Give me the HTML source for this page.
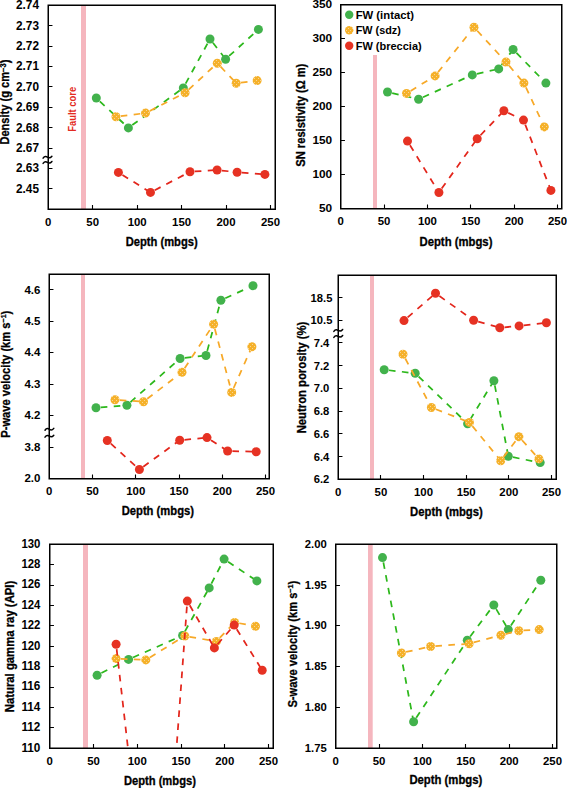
<!DOCTYPE html>
<html><head><meta charset="utf-8"><style>
html,body{margin:0;padding:0;background:#fff;}
body{width:567px;height:788px;overflow:hidden;}
svg{display:block;font-family:"Liberation Sans",sans-serif;}
</style></head><body>
<svg width="567" height="788">
<rect width="567" height="788" fill="#fff"/>
<defs><pattern id="ydots" patternUnits="userSpaceOnUse" x="0" y="0" width="4" height="4"><rect width="4" height="4" fill="#F5B12A"/><rect x="0" y="0" width="1" height="1" fill="#F9D595"/><rect x="2" y="2" width="1" height="1" fill="#F9D595"/></pattern></defs>
<rect x="81" y="5.25" width="5" height="204" fill="#F5B6BE"/>
<clipPath id="cA"><rect x="48.25" y="5.25" width="227" height="204"/></clipPath>
<g stroke-width="1.75" stroke-dasharray="6.6 6.4" stroke-dashoffset="8.2" clip-path="url(#cA)"><line x1="96.3" y1="98" x2="128.4" y2="127.9" stroke="#2DB81C"/><line x1="128.4" y1="127.9" x2="183.3" y2="87.9" stroke="#2DB81C"/><line x1="183.3" y1="87.9" x2="210" y2="39" stroke="#2DB81C"/><line x1="210" y1="39" x2="225.6" y2="59.2" stroke="#2DB81C"/><line x1="225.6" y1="59.2" x2="258.4" y2="29.4" stroke="#2DB81C"/></g>
<circle cx="96.3" cy="98" r="4.5" fill="#42B24C"/>
<circle cx="128.4" cy="127.9" r="4.5" fill="#42B24C"/>
<circle cx="183.3" cy="87.9" r="4.5" fill="#42B24C"/>
<circle cx="210" cy="39" r="4.5" fill="#42B24C"/>
<circle cx="225.6" cy="59.2" r="4.5" fill="#42B24C"/>
<circle cx="258.4" cy="29.4" r="4.5" fill="#42B24C"/>
<g stroke-width="1.75" stroke-dasharray="6.6 6.4" stroke-dashoffset="8.2" clip-path="url(#cA)"><line x1="116" y1="116.7" x2="145.5" y2="113.1" stroke="#F7A928"/><line x1="145.5" y1="113.1" x2="185.1" y2="92.8" stroke="#F7A928"/><line x1="185.1" y1="92.8" x2="217.3" y2="63.2" stroke="#F7A928"/><line x1="217.3" y1="63.2" x2="236.2" y2="83.2" stroke="#F7A928"/><line x1="236.2" y1="83.2" x2="257.1" y2="80.6" stroke="#F7A928"/></g>
<circle cx="116" cy="116.7" r="4.5" fill="url(#ydots)"/>
<circle cx="145.5" cy="113.1" r="4.5" fill="url(#ydots)"/>
<circle cx="185.1" cy="92.8" r="4.5" fill="url(#ydots)"/>
<circle cx="217.3" cy="63.2" r="4.5" fill="url(#ydots)"/>
<circle cx="236.2" cy="83.2" r="4.5" fill="url(#ydots)"/>
<circle cx="257.1" cy="80.6" r="4.5" fill="url(#ydots)"/>
<g stroke-width="1.75" stroke-dasharray="6.6 6.4" stroke-dashoffset="8.2" clip-path="url(#cA)"><line x1="118.4" y1="172.4" x2="150.5" y2="192.4" stroke="#E3261C"/><line x1="150.5" y1="192.4" x2="190" y2="171.8" stroke="#E3261C"/><line x1="190" y1="171.8" x2="217.1" y2="170" stroke="#E3261C"/><line x1="217.1" y1="170" x2="237.1" y2="172.2" stroke="#E3261C"/><line x1="237.1" y1="172.2" x2="264.9" y2="174.4" stroke="#E3261C"/></g>
<circle cx="118.4" cy="172.4" r="4.5" fill="#E63223"/>
<circle cx="150.5" cy="192.4" r="4.5" fill="#E63223"/>
<circle cx="190" cy="171.8" r="4.5" fill="#E63223"/>
<circle cx="217.1" cy="170" r="4.5" fill="#E63223"/>
<circle cx="237.1" cy="172.2" r="4.5" fill="#E63223"/>
<circle cx="264.9" cy="174.4" r="4.5" fill="#E63223"/>
<rect x="48.25" y="5.25" width="227" height="204" fill="none" stroke="#000" stroke-width="1.5"/>
<path d="M48.25,25.5h4.2 M48.25,46.5h4.2 M48.25,66.5h4.2 M48.25,86.5h4.2 M48.25,107.5h4.2 M48.25,127.5h4.2 M48.25,148.5h4.2 M48.25,168.5h4.2 M48.25,188.5h4.2 M92.5,209.25v-4.2 M137.5,209.25v-4.2 M181.5,209.25v-4.2 M226.5,209.25v-4.2 M270.5,209.25v-4.2" stroke="#000" stroke-width="1.1" fill="none"/>
<path d="M43.1,158.15 C44.68,155.87 46.27,156.34 47.5,157.2 S50.32,158.24 51.9,156.25" fill="none" stroke="#000" stroke-width="1.5" stroke-linecap="round"/>
<path d="M43.1,163.35 C44.68,161.07 46.27,161.55 47.5,162.4 S50.32,163.44 51.9,161.45" fill="none" stroke="#000" stroke-width="1.5" stroke-linecap="round"/>
<text x="39" y="9.29" font-size="11.9" font-weight="bold" fill="#000" text-anchor="end" textLength="23" lengthAdjust="spacingAndGlyphs">2.74</text>
<text x="39" y="29.69" font-size="11.9" font-weight="bold" fill="#000" text-anchor="end" textLength="23" lengthAdjust="spacingAndGlyphs">2.73</text>
<text x="39" y="50.09" font-size="11.9" font-weight="bold" fill="#000" text-anchor="end" textLength="23" lengthAdjust="spacingAndGlyphs">2.72</text>
<text x="39" y="70.49" font-size="11.9" font-weight="bold" fill="#000" text-anchor="end" textLength="23" lengthAdjust="spacingAndGlyphs">2.71</text>
<text x="39" y="90.89" font-size="11.9" font-weight="bold" fill="#000" text-anchor="end" textLength="23" lengthAdjust="spacingAndGlyphs">2.70</text>
<text x="39" y="111.29" font-size="11.9" font-weight="bold" fill="#000" text-anchor="end" textLength="23" lengthAdjust="spacingAndGlyphs">2.69</text>
<text x="39" y="131.69" font-size="11.9" font-weight="bold" fill="#000" text-anchor="end" textLength="23" lengthAdjust="spacingAndGlyphs">2.68</text>
<text x="39" y="152.09" font-size="11.9" font-weight="bold" fill="#000" text-anchor="end" textLength="23" lengthAdjust="spacingAndGlyphs">2.67</text>
<text x="39" y="172.49" font-size="11.9" font-weight="bold" fill="#000" text-anchor="end" textLength="23" lengthAdjust="spacingAndGlyphs">2.63</text>
<text x="39" y="192.89" font-size="11.9" font-weight="bold" fill="#000" text-anchor="end" textLength="23" lengthAdjust="spacingAndGlyphs">2.45</text>
<text x="48.25" y="226.45" font-size="11.7" font-weight="bold" fill="#000" text-anchor="middle" textLength="6.35" lengthAdjust="spacingAndGlyphs">0</text>
<text x="92.7" y="226.45" font-size="11.7" font-weight="bold" fill="#000" text-anchor="middle" textLength="12.7" lengthAdjust="spacingAndGlyphs">50</text>
<text x="137.15" y="226.45" font-size="11.7" font-weight="bold" fill="#000" text-anchor="middle" textLength="19.05" lengthAdjust="spacingAndGlyphs">100</text>
<text x="181.6" y="226.45" font-size="11.7" font-weight="bold" fill="#000" text-anchor="middle" textLength="19.05" lengthAdjust="spacingAndGlyphs">150</text>
<text x="226.05" y="226.45" font-size="11.7" font-weight="bold" fill="#000" text-anchor="middle" textLength="19.05" lengthAdjust="spacingAndGlyphs">200</text>
<text x="270.5" y="226.45" font-size="11.7" font-weight="bold" fill="#000" text-anchor="middle" textLength="19.05" lengthAdjust="spacingAndGlyphs">250</text>
<text x="125.7" y="246" font-size="12" font-weight="bold" fill="#000" textLength="72" lengthAdjust="spacingAndGlyphs" stroke="#000" stroke-width="0.3">Depth (mbgs)</text>
<text x="9.4" y="144.6" font-size="12" font-weight="bold" stroke="#000" stroke-width="0.3" transform="rotate(-90 9.4 144.6)" textLength="85" lengthAdjust="spacingAndGlyphs">Density (g cm<tspan font-size="8.2" dy="-3.8">−3</tspan><tspan dy="3.8">)</tspan></text>
<rect x="373" y="55" width="4" height="153.75" fill="#F5B6BE"/>
<clipPath id="cB"><rect x="340.75" y="4.75" width="221" height="204"/></clipPath>
<g stroke-width="1.75" stroke-dasharray="6.6 6.4" stroke-dashoffset="8.2" clip-path="url(#cB)"><line x1="387.5" y1="92" x2="418.6" y2="99.2" stroke="#2DB81C"/><line x1="418.6" y1="99.2" x2="472.3" y2="74.9" stroke="#2DB81C"/><line x1="472.3" y1="74.9" x2="498.7" y2="68.9" stroke="#2DB81C"/><line x1="498.7" y1="68.9" x2="513.1" y2="49.5" stroke="#2DB81C"/><line x1="513.1" y1="49.5" x2="545.9" y2="83.1" stroke="#2DB81C"/></g>
<circle cx="387.5" cy="92" r="4.5" fill="#42B24C"/>
<circle cx="418.6" cy="99.2" r="4.5" fill="#42B24C"/>
<circle cx="472.3" cy="74.9" r="4.5" fill="#42B24C"/>
<circle cx="498.7" cy="68.9" r="4.5" fill="#42B24C"/>
<circle cx="513.1" cy="49.5" r="4.5" fill="#42B24C"/>
<circle cx="545.9" cy="83.1" r="4.5" fill="#42B24C"/>
<g stroke-width="1.75" stroke-dasharray="6.6 6.4" stroke-dashoffset="8.2" clip-path="url(#cB)"><line x1="406.5" y1="93.4" x2="435.1" y2="75.9" stroke="#F7A928"/><line x1="435.1" y1="75.9" x2="474" y2="27.2" stroke="#F7A928"/><line x1="474" y1="27.2" x2="506" y2="62" stroke="#F7A928"/><line x1="506" y1="62" x2="523.9" y2="83.1" stroke="#F7A928"/><line x1="523.9" y1="83.1" x2="544.3" y2="126.9" stroke="#F7A928"/></g>
<circle cx="406.5" cy="93.4" r="4.5" fill="url(#ydots)"/>
<circle cx="435.1" cy="75.9" r="4.5" fill="url(#ydots)"/>
<circle cx="474" cy="27.2" r="4.5" fill="url(#ydots)"/>
<circle cx="506" cy="62" r="4.5" fill="url(#ydots)"/>
<circle cx="523.9" cy="83.1" r="4.5" fill="url(#ydots)"/>
<circle cx="544.3" cy="126.9" r="4.5" fill="url(#ydots)"/>
<g stroke-width="1.75" stroke-dasharray="6.6 6.4" stroke-dashoffset="8.2" clip-path="url(#cB)"><line x1="407.5" y1="141.1" x2="438.9" y2="192.5" stroke="#E3261C"/><line x1="438.9" y1="192.5" x2="477.2" y2="138.7" stroke="#E3261C"/><line x1="477.2" y1="138.7" x2="503.9" y2="110.8" stroke="#E3261C"/><line x1="503.9" y1="110.8" x2="523.5" y2="120.1" stroke="#E3261C"/><line x1="523.5" y1="120.1" x2="550.9" y2="190.4" stroke="#E3261C"/></g>
<circle cx="407.5" cy="141.1" r="4.5" fill="#E63223"/>
<circle cx="438.9" cy="192.5" r="4.5" fill="#E63223"/>
<circle cx="477.2" cy="138.7" r="4.5" fill="#E63223"/>
<circle cx="503.9" cy="110.8" r="4.5" fill="#E63223"/>
<circle cx="523.5" cy="120.1" r="4.5" fill="#E63223"/>
<circle cx="550.9" cy="190.4" r="4.5" fill="#E63223"/>
<rect x="340.75" y="4.75" width="221" height="204" fill="none" stroke="#000" stroke-width="1.5"/>
<path d="M340.75,38.5h4.2 M340.75,72.5h4.2 M340.75,106.5h4.2 M340.75,140.5h4.2 M340.75,174.5h4.2 M384.5,208.75v-4.2 M427.5,208.75v-4.2 M470.5,208.75v-4.2 M514.5,208.75v-4.2 M557.5,208.75v-4.2" stroke="#000" stroke-width="1.1" fill="none"/>
<text x="332.2" y="7.52" font-size="10.8" font-weight="bold" fill="#000" text-anchor="end" textLength="19.8" lengthAdjust="spacingAndGlyphs">350</text>
<text x="332.2" y="41.52" font-size="10.8" font-weight="bold" fill="#000" text-anchor="end" textLength="19.8" lengthAdjust="spacingAndGlyphs">300</text>
<text x="332.2" y="75.52" font-size="10.8" font-weight="bold" fill="#000" text-anchor="end" textLength="19.8" lengthAdjust="spacingAndGlyphs">250</text>
<text x="332.2" y="109.52" font-size="10.8" font-weight="bold" fill="#000" text-anchor="end" textLength="19.8" lengthAdjust="spacingAndGlyphs">200</text>
<text x="332.2" y="143.52" font-size="10.8" font-weight="bold" fill="#000" text-anchor="end" textLength="19.8" lengthAdjust="spacingAndGlyphs">150</text>
<text x="332.2" y="177.52" font-size="10.8" font-weight="bold" fill="#000" text-anchor="end" textLength="19.8" lengthAdjust="spacingAndGlyphs">100</text>
<text x="332.2" y="211.52" font-size="10.8" font-weight="bold" fill="#000" text-anchor="end" textLength="13.2" lengthAdjust="spacingAndGlyphs">50</text>
<text x="340.75" y="225.45" font-size="11.7" font-weight="bold" fill="#000" text-anchor="middle" textLength="6.35" lengthAdjust="spacingAndGlyphs">0</text>
<text x="384.1" y="225.45" font-size="11.7" font-weight="bold" fill="#000" text-anchor="middle" textLength="12.7" lengthAdjust="spacingAndGlyphs">50</text>
<text x="427.45" y="225.45" font-size="11.7" font-weight="bold" fill="#000" text-anchor="middle" textLength="19.05" lengthAdjust="spacingAndGlyphs">100</text>
<text x="470.8" y="225.45" font-size="11.7" font-weight="bold" fill="#000" text-anchor="middle" textLength="19.05" lengthAdjust="spacingAndGlyphs">150</text>
<text x="514.15" y="225.45" font-size="11.7" font-weight="bold" fill="#000" text-anchor="middle" textLength="19.05" lengthAdjust="spacingAndGlyphs">200</text>
<text x="557.5" y="225.45" font-size="11.7" font-weight="bold" fill="#000" text-anchor="middle" textLength="19.05" lengthAdjust="spacingAndGlyphs">250</text>
<text x="419.5" y="246" font-size="12" font-weight="bold" fill="#000" textLength="72.9" lengthAdjust="spacingAndGlyphs" stroke="#000" stroke-width="0.3">Depth (mbgs)</text>
<text x="305.1" y="166.7" font-size="12" font-weight="bold" stroke="#000" stroke-width="0.3" transform="rotate(-90 305.1 166.7)" textLength="103" lengthAdjust="spacingAndGlyphs">SN resistivity (Ω m)</text>
<rect x="81" y="274.25" width="4" height="204.5" fill="#F5B6BE"/>
<clipPath id="cC"><rect x="49.25" y="274.25" width="220" height="204.5"/></clipPath>
<g stroke-width="1.75" stroke-dasharray="6.6 6.4" stroke-dashoffset="8.2" clip-path="url(#cC)"><line x1="96" y1="407.8" x2="126.9" y2="405.2" stroke="#2DB81C"/><line x1="126.9" y1="405.2" x2="180.1" y2="358.5" stroke="#2DB81C"/><line x1="180.1" y1="358.5" x2="206" y2="355.5" stroke="#2DB81C"/><line x1="206" y1="355.5" x2="220.9" y2="300.2" stroke="#2DB81C"/><line x1="220.9" y1="300.2" x2="253" y2="285.7" stroke="#2DB81C"/></g>
<circle cx="96" cy="407.8" r="4.5" fill="#42B24C"/>
<circle cx="126.9" cy="405.2" r="4.5" fill="#42B24C"/>
<circle cx="180.1" cy="358.5" r="4.5" fill="#42B24C"/>
<circle cx="206" cy="355.5" r="4.5" fill="#42B24C"/>
<circle cx="220.9" cy="300.2" r="4.5" fill="#42B24C"/>
<circle cx="253" cy="285.7" r="4.5" fill="#42B24C"/>
<g stroke-width="1.75" stroke-dasharray="6.6 6.4" stroke-dashoffset="8.2" clip-path="url(#cC)"><line x1="115" y1="399.8" x2="143.5" y2="401.7" stroke="#F7A928"/><line x1="143.5" y1="401.7" x2="182" y2="372.2" stroke="#F7A928"/><line x1="182" y1="372.2" x2="213.6" y2="324.3" stroke="#F7A928"/><line x1="213.6" y1="324.3" x2="231.7" y2="392.4" stroke="#F7A928"/><line x1="231.7" y1="392.4" x2="251.9" y2="346.8" stroke="#F7A928"/></g>
<circle cx="115" cy="399.8" r="4.5" fill="url(#ydots)"/>
<circle cx="143.5" cy="401.7" r="4.5" fill="url(#ydots)"/>
<circle cx="182" cy="372.2" r="4.5" fill="url(#ydots)"/>
<circle cx="213.6" cy="324.3" r="4.5" fill="url(#ydots)"/>
<circle cx="231.7" cy="392.4" r="4.5" fill="url(#ydots)"/>
<circle cx="251.9" cy="346.8" r="4.5" fill="url(#ydots)"/>
<g stroke-width="1.75" stroke-dasharray="6.6 6.4" stroke-dashoffset="8.2" clip-path="url(#cC)"><line x1="107.3" y1="440.5" x2="139.4" y2="469.5" stroke="#E3261C"/><line x1="139.4" y1="469.5" x2="179.7" y2="440.3" stroke="#E3261C"/><line x1="179.7" y1="440.3" x2="207" y2="437.6" stroke="#E3261C"/><line x1="207" y1="437.6" x2="227.6" y2="451" stroke="#E3261C"/><line x1="227.6" y1="451" x2="256.2" y2="451.8" stroke="#E3261C"/></g>
<circle cx="107.3" cy="440.5" r="4.5" fill="#E63223"/>
<circle cx="139.4" cy="469.5" r="4.5" fill="#E63223"/>
<circle cx="179.7" cy="440.3" r="4.5" fill="#E63223"/>
<circle cx="207" cy="437.6" r="4.5" fill="#E63223"/>
<circle cx="227.6" cy="451" r="4.5" fill="#E63223"/>
<circle cx="256.2" cy="451.8" r="4.5" fill="#E63223"/>
<rect x="49.25" y="274.25" width="220" height="204.5" fill="none" stroke="#000" stroke-width="1.5"/>
<path d="M49.25,289.5h4.2 M49.25,321.5h4.2 M49.25,352.5h4.2 M49.25,384.5h4.2 M49.25,415.5h4.2 M49.25,447.5h4.2 M92.5,478.75v-4.2 M135.5,478.75v-4.2 M179.5,478.75v-4.2 M222.5,478.75v-4.2 M265.5,478.75v-4.2" stroke="#000" stroke-width="1.1" fill="none"/>
<path d="M45,430.25 C46.58,427.97 48.17,428.44 49.4,429.3 S52.22,430.35 53.8,428.35" fill="none" stroke="#000" stroke-width="1.5" stroke-linecap="round"/>
<path d="M45,437.15 C46.58,434.87 48.17,435.34 49.4,436.2 S52.22,437.25 53.8,435.25" fill="none" stroke="#000" stroke-width="1.5" stroke-linecap="round"/>
<text x="40.4" y="293.52" font-size="11.4" font-weight="bold" fill="#000" text-anchor="end" textLength="16" lengthAdjust="spacingAndGlyphs">4.6</text>
<text x="40.4" y="325" font-size="11.4" font-weight="bold" fill="#000" text-anchor="end" textLength="16" lengthAdjust="spacingAndGlyphs">4.5</text>
<text x="40.4" y="356.47" font-size="11.4" font-weight="bold" fill="#000" text-anchor="end" textLength="16" lengthAdjust="spacingAndGlyphs">4.4</text>
<text x="40.4" y="387.95" font-size="11.4" font-weight="bold" fill="#000" text-anchor="end" textLength="16" lengthAdjust="spacingAndGlyphs">4.3</text>
<text x="40.4" y="419.42" font-size="11.4" font-weight="bold" fill="#000" text-anchor="end" textLength="16" lengthAdjust="spacingAndGlyphs">4.2</text>
<text x="40.4" y="450.9" font-size="11.4" font-weight="bold" fill="#000" text-anchor="end" textLength="16" lengthAdjust="spacingAndGlyphs">3.8</text>
<text x="40.4" y="482.37" font-size="11.4" font-weight="bold" fill="#000" text-anchor="end" textLength="16" lengthAdjust="spacingAndGlyphs">2.0</text>
<text x="49.25" y="495.05" font-size="11.7" font-weight="bold" fill="#000" text-anchor="middle" textLength="6.35" lengthAdjust="spacingAndGlyphs">0</text>
<text x="92.5" y="495.05" font-size="11.7" font-weight="bold" fill="#000" text-anchor="middle" textLength="12.7" lengthAdjust="spacingAndGlyphs">50</text>
<text x="135.75" y="495.05" font-size="11.7" font-weight="bold" fill="#000" text-anchor="middle" textLength="19.05" lengthAdjust="spacingAndGlyphs">100</text>
<text x="179" y="495.05" font-size="11.7" font-weight="bold" fill="#000" text-anchor="middle" textLength="19.05" lengthAdjust="spacingAndGlyphs">150</text>
<text x="222.25" y="495.05" font-size="11.7" font-weight="bold" fill="#000" text-anchor="middle" textLength="19.05" lengthAdjust="spacingAndGlyphs">200</text>
<text x="265.5" y="495.05" font-size="11.7" font-weight="bold" fill="#000" text-anchor="middle" textLength="19.05" lengthAdjust="spacingAndGlyphs">250</text>
<text x="121.7" y="514.7" font-size="12" font-weight="bold" fill="#000" textLength="72.3" lengthAdjust="spacingAndGlyphs" stroke="#000" stroke-width="0.3">Depth (mbgs)</text>
<text x="10.3" y="437.7" font-size="12" font-weight="bold" stroke="#000" stroke-width="0.3" transform="rotate(-90 10.3 437.7)" textLength="127" lengthAdjust="spacingAndGlyphs">P-wave velocity (km s<tspan font-size="7.6" dy="-4.4">−1</tspan><tspan dy="4.4">)</tspan></text>
<rect x="370" y="275.25" width="4" height="204" fill="#F5B6BE"/>
<clipPath id="cD"><rect x="338.25" y="275.25" width="218" height="204"/></clipPath>
<g stroke-width="1.75" stroke-dasharray="6.6 6.4" stroke-dashoffset="8.2" clip-path="url(#cD)"><line x1="384.2" y1="369.7" x2="415.2" y2="373.3" stroke="#2DB81C"/><line x1="415.2" y1="373.3" x2="467.6" y2="423.7" stroke="#2DB81C"/><line x1="467.6" y1="423.7" x2="493.9" y2="380.7" stroke="#2DB81C"/><line x1="493.9" y1="380.7" x2="508.3" y2="456.3" stroke="#2DB81C"/><line x1="508.3" y1="456.3" x2="540.2" y2="462.6" stroke="#2DB81C"/></g>
<circle cx="384.2" cy="369.7" r="4.5" fill="#42B24C"/>
<circle cx="415.2" cy="373.3" r="4.5" fill="#42B24C"/>
<circle cx="467.6" cy="423.7" r="4.5" fill="#42B24C"/>
<circle cx="493.9" cy="380.7" r="4.5" fill="#42B24C"/>
<circle cx="508.3" cy="456.3" r="4.5" fill="#42B24C"/>
<circle cx="540.2" cy="462.6" r="4.5" fill="#42B24C"/>
<g stroke-width="1.75" stroke-dasharray="6.6 6.4" stroke-dashoffset="8.2" clip-path="url(#cD)"><line x1="403" y1="354.3" x2="431.4" y2="407.5" stroke="#F7A928"/><line x1="431.4" y1="407.5" x2="469.4" y2="422.4" stroke="#F7A928"/><line x1="469.4" y1="422.4" x2="500.7" y2="460.7" stroke="#F7A928"/><line x1="500.7" y1="460.7" x2="518.9" y2="436.7" stroke="#F7A928"/><line x1="518.9" y1="436.7" x2="538.9" y2="458.9" stroke="#F7A928"/></g>
<circle cx="403" cy="354.3" r="4.5" fill="url(#ydots)"/>
<circle cx="431.4" cy="407.5" r="4.5" fill="url(#ydots)"/>
<circle cx="469.4" cy="422.4" r="4.5" fill="url(#ydots)"/>
<circle cx="500.7" cy="460.7" r="4.5" fill="url(#ydots)"/>
<circle cx="518.9" cy="436.7" r="4.5" fill="url(#ydots)"/>
<circle cx="538.9" cy="458.9" r="4.5" fill="url(#ydots)"/>
<g stroke-width="1.75" stroke-dasharray="6.6 6.4" stroke-dashoffset="8.2" clip-path="url(#cD)"><line x1="404" y1="320.6" x2="435.5" y2="293.3" stroke="#E3261C"/><line x1="435.5" y1="293.3" x2="473.6" y2="320.3" stroke="#E3261C"/><line x1="473.6" y1="320.3" x2="499.8" y2="327.7" stroke="#E3261C"/><line x1="499.8" y1="327.7" x2="519.1" y2="325.9" stroke="#E3261C"/><line x1="519.1" y1="325.9" x2="546.4" y2="322.8" stroke="#E3261C"/></g>
<circle cx="404" cy="320.6" r="4.5" fill="#E63223"/>
<circle cx="435.5" cy="293.3" r="4.5" fill="#E63223"/>
<circle cx="473.6" cy="320.3" r="4.5" fill="#E63223"/>
<circle cx="499.8" cy="327.7" r="4.5" fill="#E63223"/>
<circle cx="519.1" cy="325.9" r="4.5" fill="#E63223"/>
<circle cx="546.4" cy="322.8" r="4.5" fill="#E63223"/>
<rect x="338.25" y="275.25" width="218" height="204" fill="none" stroke="#000" stroke-width="1.5"/>
<path d="M338.25,297.5h4.2 M338.25,320.5h4.2 M338.25,342.5h4.2 M338.25,365.5h4.2 M338.25,388.5h4.2 M338.25,411.5h4.2 M338.25,433.5h4.2 M338.25,456.5h4.2 M380.5,479.25v-4.2 M423.5,479.25v-4.2 M466.5,479.25v-4.2 M508.5,479.25v-4.2 M551.5,479.25v-4.2" stroke="#000" stroke-width="1.1" fill="none"/>
<path d="M333.85,331.35 C335.43,329.07 337.02,329.54 338.25,330.4 S341.07,331.44 342.65,329.45" fill="none" stroke="#000" stroke-width="1.5" stroke-linecap="round"/>
<path d="M333.85,337.35 C335.43,335.07 337.02,335.54 338.25,336.4 S341.07,337.44 342.65,335.45" fill="none" stroke="#000" stroke-width="1.5" stroke-linecap="round"/>
<text x="321.5" y="301.52" font-size="11.55" font-weight="bold" fill="#000" text-anchor="middle" textLength="21.8" lengthAdjust="spacingAndGlyphs">18.5</text>
<text x="321.5" y="324.24" font-size="11.55" font-weight="bold" fill="#000" text-anchor="middle" textLength="21.8" lengthAdjust="spacingAndGlyphs">10.5</text>
<text x="321.5" y="346.96" font-size="11.55" font-weight="bold" fill="#000" text-anchor="middle" textLength="15.6" lengthAdjust="spacingAndGlyphs">7.4</text>
<text x="321.5" y="369.68" font-size="11.55" font-weight="bold" fill="#000" text-anchor="middle" textLength="15.6" lengthAdjust="spacingAndGlyphs">7.2</text>
<text x="321.5" y="392.4" font-size="11.55" font-weight="bold" fill="#000" text-anchor="middle" textLength="15.6" lengthAdjust="spacingAndGlyphs">7.0</text>
<text x="321.5" y="415.12" font-size="11.55" font-weight="bold" fill="#000" text-anchor="middle" textLength="15.6" lengthAdjust="spacingAndGlyphs">6.8</text>
<text x="321.5" y="437.84" font-size="11.55" font-weight="bold" fill="#000" text-anchor="middle" textLength="15.6" lengthAdjust="spacingAndGlyphs">6.6</text>
<text x="321.5" y="460.56" font-size="11.55" font-weight="bold" fill="#000" text-anchor="middle" textLength="15.6" lengthAdjust="spacingAndGlyphs">6.4</text>
<text x="321.5" y="483.28" font-size="11.55" font-weight="bold" fill="#000" text-anchor="middle" textLength="15.6" lengthAdjust="spacingAndGlyphs">6.2</text>
<text x="338.25" y="496.25" font-size="11.7" font-weight="bold" fill="#000" text-anchor="middle" textLength="6.35" lengthAdjust="spacingAndGlyphs">0</text>
<text x="380.9" y="496.25" font-size="11.7" font-weight="bold" fill="#000" text-anchor="middle" textLength="12.7" lengthAdjust="spacingAndGlyphs">50</text>
<text x="423.55" y="496.25" font-size="11.7" font-weight="bold" fill="#000" text-anchor="middle" textLength="19.05" lengthAdjust="spacingAndGlyphs">100</text>
<text x="466.2" y="496.25" font-size="11.7" font-weight="bold" fill="#000" text-anchor="middle" textLength="19.05" lengthAdjust="spacingAndGlyphs">150</text>
<text x="508.85" y="496.25" font-size="11.7" font-weight="bold" fill="#000" text-anchor="middle" textLength="19.05" lengthAdjust="spacingAndGlyphs">200</text>
<text x="551.5" y="496.25" font-size="11.7" font-weight="bold" fill="#000" text-anchor="middle" textLength="19.05" lengthAdjust="spacingAndGlyphs">250</text>
<text x="410.1" y="515.6" font-size="12" font-weight="bold" fill="#000" textLength="72.7" lengthAdjust="spacingAndGlyphs" stroke="#000" stroke-width="0.3">Depth (mbgs)</text>
<text x="305.6" y="433.3" font-size="12" font-weight="bold" stroke="#000" stroke-width="0.3" transform="rotate(-90 305.6 433.3)" textLength="111.6" lengthAdjust="spacingAndGlyphs">Neutron porosity (%)</text>
<rect x="83" y="544.25" width="5" height="204" fill="#F5B6BE"/>
<clipPath id="cE"><rect x="49.75" y="544.25" width="223.5" height="204"/></clipPath>
<g stroke-width="1.75" stroke-dasharray="6.6 6.4" stroke-dashoffset="8.2" clip-path="url(#cE)"><line x1="97.1" y1="675.2" x2="128.6" y2="659.4" stroke="#2DB81C"/><line x1="128.6" y1="659.4" x2="182.6" y2="635.5" stroke="#2DB81C"/><line x1="182.6" y1="635.5" x2="209.2" y2="587.9" stroke="#2DB81C"/><line x1="209.2" y1="587.9" x2="224.1" y2="559.1" stroke="#2DB81C"/><line x1="224.1" y1="559.1" x2="256.9" y2="580.9" stroke="#2DB81C"/></g>
<circle cx="97.1" cy="675.2" r="4.5" fill="#42B24C"/>
<circle cx="128.6" cy="659.4" r="4.5" fill="#42B24C"/>
<circle cx="182.6" cy="635.5" r="4.5" fill="#42B24C"/>
<circle cx="209.2" cy="587.9" r="4.5" fill="#42B24C"/>
<circle cx="224.1" cy="559.1" r="4.5" fill="#42B24C"/>
<circle cx="256.9" cy="580.9" r="4.5" fill="#42B24C"/>
<g stroke-width="1.75" stroke-dasharray="6.6 6.4" stroke-dashoffset="8.2" clip-path="url(#cE)"><line x1="116.1" y1="658.6" x2="145.8" y2="659.9" stroke="#F7A928"/><line x1="145.8" y1="659.9" x2="184.8" y2="636" stroke="#F7A928"/><line x1="184.8" y1="636" x2="216.4" y2="641.4" stroke="#F7A928"/><line x1="216.4" y1="641.4" x2="234.6" y2="622.4" stroke="#F7A928"/><line x1="234.6" y1="622.4" x2="255.5" y2="626.2" stroke="#F7A928"/></g>
<circle cx="116.1" cy="658.6" r="4.5" fill="url(#ydots)"/>
<circle cx="145.8" cy="659.9" r="4.5" fill="url(#ydots)"/>
<circle cx="184.8" cy="636" r="4.5" fill="url(#ydots)"/>
<circle cx="216.4" cy="641.4" r="4.5" fill="url(#ydots)"/>
<circle cx="234.6" cy="622.4" r="4.5" fill="url(#ydots)"/>
<circle cx="255.5" cy="626.2" r="4.5" fill="url(#ydots)"/>
<g stroke-width="1.75" stroke-dasharray="6.6 6.4" stroke-dashoffset="8.2" clip-path="url(#cE)"><line x1="116.1" y1="644.3" x2="157.5" y2="1007" stroke="#E3261C"/><line x1="157.5" y1="1007" x2="187.3" y2="601.1" stroke="#E3261C"/><line x1="187.3" y1="601.1" x2="214.4" y2="647.9" stroke="#E3261C"/><line x1="214.4" y1="647.9" x2="234.2" y2="625.1" stroke="#E3261C"/><line x1="234.2" y1="625.1" x2="262.2" y2="670.3" stroke="#E3261C"/></g>
<circle cx="116.1" cy="644.3" r="4.5" fill="#E63223"/>
<circle cx="187.3" cy="601.1" r="4.5" fill="#E63223"/>
<circle cx="214.4" cy="647.9" r="4.5" fill="#E63223"/>
<circle cx="234.2" cy="625.1" r="4.5" fill="#E63223"/>
<circle cx="262.2" cy="670.3" r="4.5" fill="#E63223"/>
<rect x="49.75" y="544.25" width="223.5" height="204" fill="none" stroke="#000" stroke-width="1.5"/>
<path d="M49.75,564.5h4.2 M49.75,585.5h4.2 M49.75,605.5h4.2 M49.75,625.5h4.2 M49.75,646.5h4.2 M49.75,666.5h4.2 M49.75,687.5h4.2 M49.75,707.5h4.2 M49.75,727.5h4.2 M93.5,748.25v-4.2 M137.5,748.25v-4.2 M181.5,748.25v-4.2 M224.5,748.25v-4.2 M268.5,748.25v-4.2" stroke="#000" stroke-width="1.1" fill="none"/>
<text x="40.4" y="547.61" font-size="12.1" font-weight="bold" fill="#000" text-anchor="end" textLength="18.99" lengthAdjust="spacingAndGlyphs">130</text>
<text x="40.4" y="568.01" font-size="12.1" font-weight="bold" fill="#000" text-anchor="end" textLength="18.99" lengthAdjust="spacingAndGlyphs">128</text>
<text x="40.4" y="588.41" font-size="12.1" font-weight="bold" fill="#000" text-anchor="end" textLength="18.99" lengthAdjust="spacingAndGlyphs">126</text>
<text x="40.4" y="608.81" font-size="12.1" font-weight="bold" fill="#000" text-anchor="end" textLength="18.99" lengthAdjust="spacingAndGlyphs">124</text>
<text x="40.4" y="629.21" font-size="12.1" font-weight="bold" fill="#000" text-anchor="end" textLength="18.99" lengthAdjust="spacingAndGlyphs">122</text>
<text x="40.4" y="649.61" font-size="12.1" font-weight="bold" fill="#000" text-anchor="end" textLength="18.99" lengthAdjust="spacingAndGlyphs">120</text>
<text x="40.4" y="670.01" font-size="12.1" font-weight="bold" fill="#000" text-anchor="end" textLength="18.99" lengthAdjust="spacingAndGlyphs">118</text>
<text x="40.4" y="690.41" font-size="12.1" font-weight="bold" fill="#000" text-anchor="end" textLength="18.99" lengthAdjust="spacingAndGlyphs">116</text>
<text x="40.4" y="710.81" font-size="12.1" font-weight="bold" fill="#000" text-anchor="end" textLength="18.99" lengthAdjust="spacingAndGlyphs">114</text>
<text x="40.4" y="731.21" font-size="12.1" font-weight="bold" fill="#000" text-anchor="end" textLength="18.99" lengthAdjust="spacingAndGlyphs">112</text>
<text x="40.4" y="751.61" font-size="12.1" font-weight="bold" fill="#000" text-anchor="end" textLength="18.99" lengthAdjust="spacingAndGlyphs">110</text>
<text x="49.75" y="765.25" font-size="11.7" font-weight="bold" fill="#000" text-anchor="middle" textLength="6.35" lengthAdjust="spacingAndGlyphs">0</text>
<text x="93.5" y="765.25" font-size="11.7" font-weight="bold" fill="#000" text-anchor="middle" textLength="12.7" lengthAdjust="spacingAndGlyphs">50</text>
<text x="137.25" y="765.25" font-size="11.7" font-weight="bold" fill="#000" text-anchor="middle" textLength="19.05" lengthAdjust="spacingAndGlyphs">100</text>
<text x="181" y="765.25" font-size="11.7" font-weight="bold" fill="#000" text-anchor="middle" textLength="19.05" lengthAdjust="spacingAndGlyphs">150</text>
<text x="224.75" y="765.25" font-size="11.7" font-weight="bold" fill="#000" text-anchor="middle" textLength="19.05" lengthAdjust="spacingAndGlyphs">200</text>
<text x="268.5" y="765.25" font-size="11.7" font-weight="bold" fill="#000" text-anchor="middle" textLength="19.05" lengthAdjust="spacingAndGlyphs">250</text>
<text x="123.9" y="785.4" font-size="12" font-weight="bold" fill="#000" textLength="72" lengthAdjust="spacingAndGlyphs" stroke="#000" stroke-width="0.3">Depth (mbgs)</text>
<text x="14" y="712.3" font-size="12" font-weight="bold" stroke="#000" stroke-width="0.3" transform="rotate(-90 14 712.3)" textLength="131.6" lengthAdjust="spacingAndGlyphs">Natural gamma ray (API)</text>
<rect x="368" y="544.25" width="4.7" height="204" fill="#F5B6BE"/>
<clipPath id="cF"><rect x="335.75" y="544.25" width="221" height="204"/></clipPath>
<g stroke-width="1.75" stroke-dasharray="6.6 6.4" stroke-dashoffset="8.2" clip-path="url(#cF)"><line x1="382.5" y1="557.6" x2="413.6" y2="721.8" stroke="#2DB81C"/><line x1="413.6" y1="721.8" x2="467.3" y2="640.3" stroke="#2DB81C"/><line x1="467.3" y1="640.3" x2="493.8" y2="605" stroke="#2DB81C"/><line x1="493.8" y1="605" x2="508.3" y2="629.6" stroke="#2DB81C"/><line x1="508.3" y1="629.6" x2="540.8" y2="580.3" stroke="#2DB81C"/></g>
<circle cx="382.5" cy="557.6" r="4.5" fill="#42B24C"/>
<circle cx="413.6" cy="721.8" r="4.5" fill="#42B24C"/>
<circle cx="467.3" cy="640.3" r="4.5" fill="#42B24C"/>
<circle cx="493.8" cy="605" r="4.5" fill="#42B24C"/>
<circle cx="508.3" cy="629.6" r="4.5" fill="#42B24C"/>
<circle cx="540.8" cy="580.3" r="4.5" fill="#42B24C"/>
<g stroke-width="1.75" stroke-dasharray="6.6 6.4" stroke-dashoffset="8.2" clip-path="url(#cF)"><line x1="401.4" y1="653" x2="430.6" y2="646.5" stroke="#F7A928"/><line x1="430.6" y1="646.5" x2="469.1" y2="643.7" stroke="#F7A928"/><line x1="469.1" y1="643.7" x2="500.9" y2="635.2" stroke="#F7A928"/><line x1="500.9" y1="635.2" x2="518.8" y2="630.7" stroke="#F7A928"/><line x1="518.8" y1="630.7" x2="539.2" y2="629.6" stroke="#F7A928"/></g>
<circle cx="401.4" cy="653" r="4.5" fill="url(#ydots)"/>
<circle cx="430.6" cy="646.5" r="4.5" fill="url(#ydots)"/>
<circle cx="469.1" cy="643.7" r="4.5" fill="url(#ydots)"/>
<circle cx="500.9" cy="635.2" r="4.5" fill="url(#ydots)"/>
<circle cx="518.8" cy="630.7" r="4.5" fill="url(#ydots)"/>
<circle cx="539.2" cy="629.6" r="4.5" fill="url(#ydots)"/>
<rect x="335.75" y="544.25" width="221" height="204" fill="none" stroke="#000" stroke-width="1.5"/>
<path d="M335.75,585.5h4.2 M335.75,625.5h4.2 M335.75,666.5h4.2 M335.75,707.5h4.2 M379.5,748.25v-4.2 M422.5,748.25v-4.2 M465.5,748.25v-4.2 M509.5,748.25v-4.2 M552.5,748.25v-4.2" stroke="#000" stroke-width="1.1" fill="none"/>
<text x="326.8" y="547.82" font-size="11.55" font-weight="bold" fill="#000" text-anchor="end" textLength="21.95" lengthAdjust="spacingAndGlyphs">2.00</text>
<text x="326.8" y="588.62" font-size="11.55" font-weight="bold" fill="#000" text-anchor="end" textLength="21.95" lengthAdjust="spacingAndGlyphs">1.95</text>
<text x="326.8" y="629.42" font-size="11.55" font-weight="bold" fill="#000" text-anchor="end" textLength="21.95" lengthAdjust="spacingAndGlyphs">1.90</text>
<text x="326.8" y="670.22" font-size="11.55" font-weight="bold" fill="#000" text-anchor="end" textLength="21.95" lengthAdjust="spacingAndGlyphs">1.85</text>
<text x="326.8" y="711.02" font-size="11.55" font-weight="bold" fill="#000" text-anchor="end" textLength="21.95" lengthAdjust="spacingAndGlyphs">1.80</text>
<text x="326.8" y="751.82" font-size="11.55" font-weight="bold" fill="#000" text-anchor="end" textLength="21.95" lengthAdjust="spacingAndGlyphs">1.75</text>
<text x="335.75" y="765.25" font-size="11.7" font-weight="bold" fill="#000" text-anchor="middle" textLength="6.35" lengthAdjust="spacingAndGlyphs">0</text>
<text x="379.1" y="765.25" font-size="11.7" font-weight="bold" fill="#000" text-anchor="middle" textLength="12.7" lengthAdjust="spacingAndGlyphs">50</text>
<text x="422.45" y="765.25" font-size="11.7" font-weight="bold" fill="#000" text-anchor="middle" textLength="19.05" lengthAdjust="spacingAndGlyphs">100</text>
<text x="465.8" y="765.25" font-size="11.7" font-weight="bold" fill="#000" text-anchor="middle" textLength="19.05" lengthAdjust="spacingAndGlyphs">150</text>
<text x="509.15" y="765.25" font-size="11.7" font-weight="bold" fill="#000" text-anchor="middle" textLength="19.05" lengthAdjust="spacingAndGlyphs">200</text>
<text x="552.5" y="765.25" font-size="11.7" font-weight="bold" fill="#000" text-anchor="middle" textLength="19.05" lengthAdjust="spacingAndGlyphs">250</text>
<text x="409.4" y="784" font-size="12" font-weight="bold" fill="#000" textLength="72.9" lengthAdjust="spacingAndGlyphs" stroke="#000" stroke-width="0.3">Depth (mbgs)</text>
<text x="297.2" y="707.6" font-size="12" font-weight="bold" stroke="#000" stroke-width="0.3" transform="rotate(-90 297.2 707.6)" textLength="126.9" lengthAdjust="spacingAndGlyphs">S-wave velocity (km s<tspan font-size="7.8" dy="-4.4">−1</tspan><tspan dy="4.4">)</tspan></text>
<text x="76.0" y="131.8" font-size="11" font-weight="bold" fill="#E32A22" transform="rotate(-90 76 131.8)" textLength="45.1" lengthAdjust="spacingAndGlyphs">Fault core</text>
<circle cx="349.2" cy="14.8" r="4.2" fill="#42B24C"/>
<circle cx="349.2" cy="30.25" r="4.2" fill="url(#ydots)"/>
<circle cx="349.2" cy="45.7" r="4.2" fill="#E63223"/>
<text x="355.7" y="18.6" font-size="11" font-weight="bold" fill="#000" textLength="58.3" lengthAdjust="spacingAndGlyphs">FW (intact)</text>
<text x="355.7" y="34.05" font-size="11" font-weight="bold" fill="#000" textLength="45.2" lengthAdjust="spacingAndGlyphs">FW (sdz)</text>
<text x="355.7" y="49.5" font-size="11" font-weight="bold" fill="#000" textLength="66" lengthAdjust="spacingAndGlyphs">FW (breccia)</text>
</svg>
</body></html>
